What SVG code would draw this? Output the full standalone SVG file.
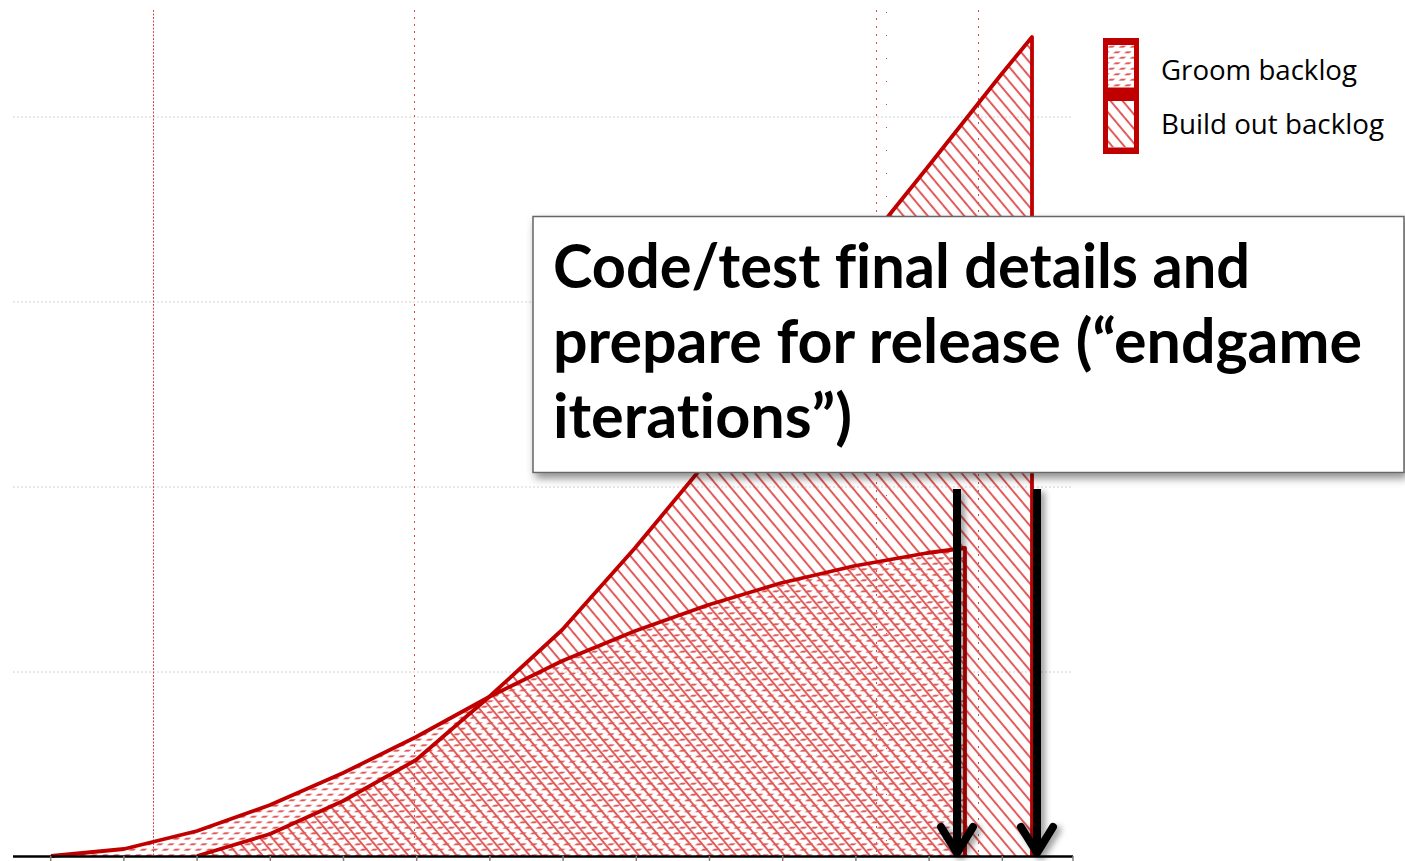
<svg xmlns="http://www.w3.org/2000/svg" width="1405" height="861" viewBox="0 0 1405 861">
  <style>
    .grid-h { stroke: #d2d2d2; stroke-width: 1; stroke-dasharray: 2 2; fill: none; }
    .grid-v { stroke: #d94848; stroke-width: 1; fill: none; }
    .series-line { fill: none; stroke: #c00000; stroke-width: 3.8; stroke-linejoin: round; }
    .axis { stroke: #000; stroke-width: 2.5; }
    .tick { stroke: #7f7f7f; stroke-width: 1.5; }
    .legend-text { font-family: "Open Sans", "Liberation Sans", sans-serif; font-size: 27px; fill: #000; }
    .callout-text { font-family: "Lato", "Liberation Sans", sans-serif; font-weight: 700; font-size: 62px; fill: #000; font-variant-ligatures: none; font-feature-settings: "liga" 0, "clig" 0; }
    .arrow { fill: none; stroke: #000; stroke-width: 8; }
  </style>
  <defs>
    <!-- wide downward diagonal hatch: build out backlog -->
    <pattern id="hatch-build" patternUnits="userSpaceOnUse" width="9.3" height="20" patternTransform="rotate(-40)">
      <line x1="4.65" y1="0" x2="4.65" y2="20" stroke="#e05a5a" stroke-width="2"/>
    </pattern>
    <!-- dashed upward diagonal: groom backlog -->
    <pattern id="hatch-groom" patternUnits="userSpaceOnUse" width="11" height="5.5" patternTransform="skewX(-45)">
      <line x1="0.5" y1="2.75" x2="5.8" y2="2.75" stroke="#e05a5a" stroke-width="2"/>
    </pattern>
    <filter id="shadow" x="-10%" y="-10%" width="130%" height="140%">
      <feDropShadow dx="3" dy="5" stdDeviation="4" flood-color="#000" flood-opacity="0.45"/>
    </filter>
    <filter id="arrow-shadow" x="-50%" y="-10%" width="300%" height="130%">
      <feDropShadow dx="4" dy="3" stdDeviation="3" flood-color="#000" flood-opacity="0.4"/>
    </filter>
  </defs>

  <rect width="1405" height="861" fill="#fff"/>

  <!-- gridlines -->
  <g id="gridlines">
    <line class="grid-h" x1="13" y1="117" x2="1072" y2="117"/>
    <line class="grid-h" x1="13" y1="302" x2="1072" y2="302"/>
    <line class="grid-h" x1="13" y1="487" x2="1072" y2="487"/>
    <line class="grid-h" x1="13" y1="672" x2="1072" y2="672"/>
    <line class="grid-v" x1="153.5" y1="10" x2="153.5" y2="855" stroke-dasharray="2 1.5"/>
    <line class="grid-v" x1="414.5" y1="10" x2="414.5" y2="855" stroke-dasharray="2 5"/>
    <line class="grid-v" x1="876.5" y1="10" x2="876.5" y2="855" stroke-dasharray="2 6"/>
    <line class="grid-v" x1="886.5" y1="12" x2="886.5" y2="855" stroke-dasharray="1 22"/>
    <line class="grid-v" x1="978.5" y1="10" x2="978.5" y2="855" stroke-dasharray="2 6"/>
  </g>

  <!-- series areas -->
  <g id="series-groom">
    <polygon fill="url(#hatch-groom)" points="51,856 124,849 197,831 270,805 343,773 416,737 489,697 562,661 635,631 708,605 781,583 854,566 927,553 965,548 965,856"/>
  </g>
  <g id="series-build">
    <polygon fill="url(#hatch-build)" points="197,856 270,834 343,801 416,760 489,697 562,630 635,548 708,460 781,365 854,262 890,214 927,168 1000,76 1032,37 1032,856"/>
  </g>
  <g id="series-lines">
    <polyline class="series-line" points="51,856 124,849 197,831 270,805 343,773 416,737 489,697 562,661 635,631 708,605 781,583 854,566 927,553 965,548 965,856"/>
    <polyline class="series-line" points="197,856 270,834 343,801 416,760 489,697 562,630 635,548 708,460 781,365 854,262 890,214 927,168 1000,76 1032,37 1032,856"/>
  </g>

  <!-- category axis -->
  <g id="axis">
    <line class="axis" x1="13" y1="856.5" x2="1073" y2="856.5"/>
    <g class="tick">
      <line x1="50.7" y1="856" x2="50.7" y2="861"/>
      <line x1="123.9" y1="856" x2="123.9" y2="861"/>
      <line x1="197.1" y1="856" x2="197.1" y2="861"/>
      <line x1="270.3" y1="856" x2="270.3" y2="861"/>
      <line x1="343.5" y1="856" x2="343.5" y2="861"/>
      <line x1="416.7" y1="856" x2="416.7" y2="861"/>
      <line x1="489.9" y1="856" x2="489.9" y2="861"/>
      <line x1="563.1" y1="856" x2="563.1" y2="861"/>
      <line x1="636.3" y1="856" x2="636.3" y2="861"/>
      <line x1="709.5" y1="856" x2="709.5" y2="861"/>
      <line x1="782.7" y1="856" x2="782.7" y2="861"/>
      <line x1="855.9" y1="856" x2="855.9" y2="861"/>
      <line x1="929.1" y1="856" x2="929.1" y2="861"/>
      <line x1="1002.3" y1="856" x2="1002.3" y2="861"/>
      <line x1="1073" y1="856" x2="1073" y2="861"/>
    </g>
  </g>

  <!-- callout -->
  <g id="callout">
    <rect x="533" y="216.5" width="871" height="256" fill="#fff" stroke="#666" stroke-width="1.5" filter="url(#shadow)"/>
    <text class="callout-text" x="553" y="288" textLength="697" lengthAdjust="spacingAndGlyphs">Code/test final details and</text>
    <text class="callout-text" x="553" y="363" textLength="809" lengthAdjust="spacingAndGlyphs">prepare for release (“endgame</text>
    <text class="callout-text" x="553" y="438" textLength="299" lengthAdjust="spacingAndGlyphs">iterations”)</text>
  </g>

  <!-- release arrows -->
  <g id="arrows" filter="url(#arrow-shadow)">
    <g id="arrow-1">
      <line class="arrow" x1="957" y1="489" x2="957" y2="854"/>
      <polyline class="arrow" points="941,827 957,853 973,827" stroke-linecap="round" stroke-linejoin="round"/>
    </g>
    <g id="arrow-2">
      <line class="arrow" x1="1037" y1="489" x2="1037" y2="854"/>
      <polyline class="arrow" points="1021,827 1037,853 1053,827" stroke-linecap="round" stroke-linejoin="round"/>
    </g>
  </g>

  <!-- legend -->
  <g id="legend">
    <rect x="1103" y="38" width="36" height="116" fill="#c00000"/>
    <rect x="1108" y="45" width="26" height="42.5" fill="#fff"/>
    <rect x="1108" y="45" width="26" height="42.5" fill="url(#hatch-groom)"/>
    <rect x="1108" y="101" width="26" height="46.5" fill="#fff"/>
    <rect x="1108" y="101" width="26" height="46.5" fill="url(#hatch-build)"/>
    <text class="legend-text" x="1161" y="80" textLength="196" lengthAdjust="spacingAndGlyphs">Groom backlog</text>
    <text class="legend-text" x="1161" y="134" textLength="223" lengthAdjust="spacingAndGlyphs">Build out backlog</text>
  </g>
</svg>
